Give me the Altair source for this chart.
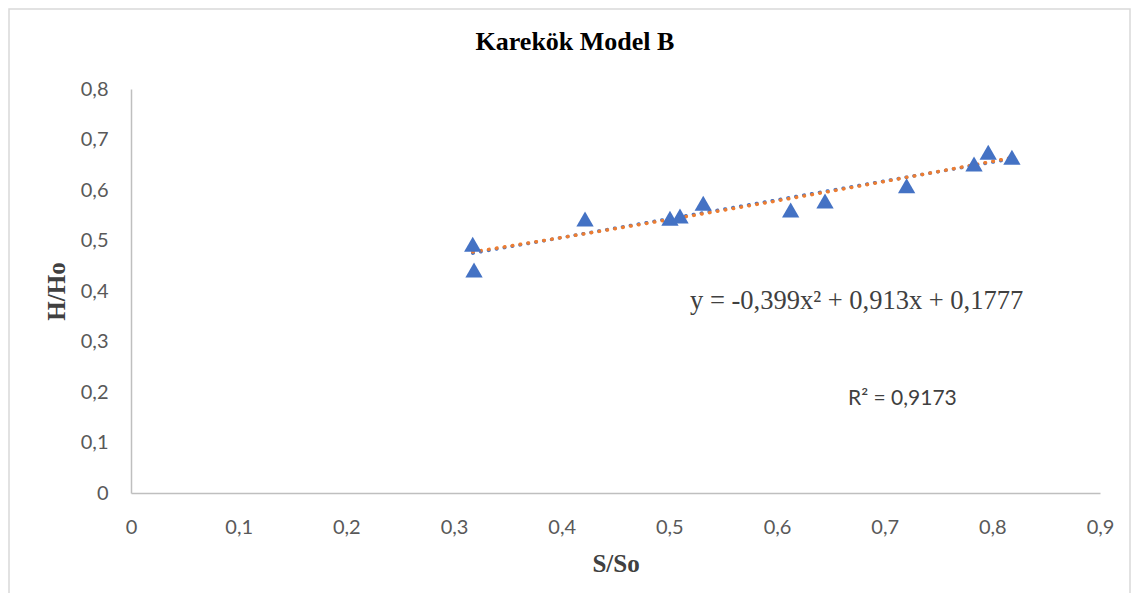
import altair as alt
import pandas as pd

# Data
s_so = [0.3174, 0.3186, 0.4217, 0.5006, 0.5099, 0.5315, 0.6127, 0.6446, 0.7204, 0.7830, 0.7962, 0.8182]
h_ho = [0.4925, 0.4416, 0.5426, 0.5440, 0.5485, 0.5737, 0.5604, 0.5782, 0.6085, 0.6515, 0.6747, 0.6648]

x_ticks = [0, 0.1, 0.2, 0.3, 0.4, 0.5, 0.6, 0.7, 0.8, 0.9]
y_ticks = [0, 0.1, 0.2, 0.3, 0.4, 0.5, 0.6, 0.7, 0.8]

title_text = "Karekök Model B"
eq_text = "y = -0,399x² + 0,913x + 0,1777"
r2_text = "R² = 0,9173"

df = pd.DataFrame({"x": s_so, "y": h_ho})

W, H = 969, 404
comma = "replace(format(datum.value, '~g'), '.', ',')"

x_enc = alt.X("x:Q", scale=alt.Scale(domain=[0, 0.9], nice=False, zero=True),
              axis=alt.Axis(values=x_ticks, title="S/So", labelExpr=comma,
                            labelFlush=False, labelOverlap=False,
                            labelPadding=24, titleX=W / 2, titleY=70,
                            titleBaseline="middle", titleAlign="center"))
y_enc = alt.Y("y:Q", scale=alt.Scale(domain=[0, 0.8], nice=False),
              axis=alt.Axis(values=y_ticks, title="H/Ho", labelExpr=comma,
                            labelFlush=False, labelOverlap=False,
                            labelPadding=23, titleX=-75, titleY=H / 2,
                            titleBaseline="middle", titleAlign="center",
                            titleAngle=-90))

one = alt.Data(values=[{}])

border = alt.Chart(one).mark_rect(fillOpacity=0, stroke="#d9d9d9", strokeWidth=1.5).encode(
    x=alt.value(-122), x2=alt.value(999), y=alt.value(-80), y2=alt.value(620)
)

title = alt.Chart(one).mark_text(
    text=title_text, font="Liberation Serif", fontWeight="bold", fontSize=26,
    color="#000000", align="center", baseline="middle"
).encode(x=alt.value(444), y=alt.value(-47))

base = alt.Chart(df)

points = base.mark_point(shape="triangle-up", filled=True, size=300, opacity=1,
                         color="#4472C4").encode(x=x_enc, y=y_enc)

lin = base.transform_regression("x", "y", method="linear").mark_line(
    color="#4472C4", strokeWidth=3.5, strokeDash=[0.5, 7.5], strokeCap="round"
).encode(x="x:Q", y="y:Q")

poly = base.transform_regression("x", "y", method="poly", order=2).mark_line(
    color="#ED7D31", strokeWidth=3.5, strokeDash=[0.5, 7.5], strokeCap="round"
).encode(x="x:Q", y="y:Q")

eq = alt.Chart(one).mark_text(
    text=eq_text, font="Liberation Serif", fontSize=26.5, color="#404040",
    align="left", baseline="middle"
).encode(x=alt.value(559), y=alt.value(212))

r2 = alt.Chart(one).mark_text(
    text=r2_text, font="Lato", fontSize=21, color="#404040",
    align="left", baseline="middle"
).encode(x=alt.value(717), y=alt.value(310))

chart = alt.layer(border, title, lin, poly, points, eq, r2).properties(
    width=W, height=H, autosize="none",
    padding={"left": 123, "top": 81, "right": 33, "bottom": 100},
).configure_view(strokeWidth=0).configure_axis(
    grid=False, ticks=False, tickSize=0, domainColor="#bfbfbf", domainWidth=1.5,
    labelFont="Lato", labelFontSize=20, labelColor="#595959",
    titleFont="Liberation Serif", titleFontWeight="bold", titleFontSize=25,
    titleColor="#404040"
)

chart.save("out.html", embed_options={"renderer": "svg", "actions": False})
